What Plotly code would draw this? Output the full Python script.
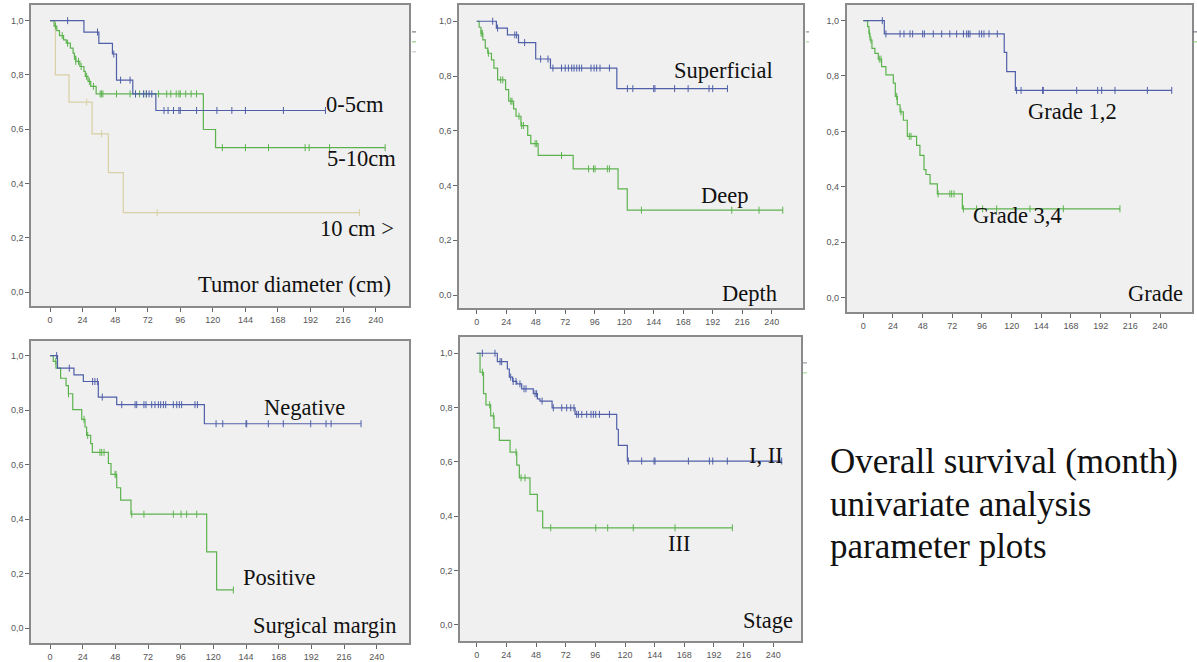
import plotly.graph_objects as go

W, H = 1197, 662

# ---------------- DATA (months, survival) ----------------
XTICKS = [0, 24, 48, 72, 96, 120, 144, 168, 192, 216, 240]
YTICKS = [0.0, 0.2, 0.4, 0.6, 0.8, 1.0]
YTICK_TEXT = ["0,0", "0,2", "0,4", "0,6", "0,8", "1,0"]

# Panel 1: Tumor diameter
td_0_5_t = [25, 36, 46, 49, 61, 78]
td_0_5_s = [0.958, 0.916, 0.877, 0.781, 0.730, 0.669]
td_0_5_c = [13, 35, 47, 52, 59, 63, 69, 71, 73, 75, 84, 87, 91, 95, 96, 108, 123, 134, 144, 172, 203]

td_5_10_t = [3, 5, 7, 10, 12, 15, 17, 18, 19, 22, 25, 26, 28, 30, 34, 113, 122]
td_5_10_s = [0.980, 0.963, 0.945, 0.929, 0.917, 0.899, 0.880, 0.868, 0.850, 0.831, 0.813, 0.795,
             0.776, 0.758, 0.730, 0.599, 0.532]
td_5_10_c = [4, 9, 13, 18, 19, 21, 23, 27, 29, 32, 37, 38, 39, 49, 59, 63, 66, 69, 71, 80, 86, 89,
             93, 95, 96, 100, 104, 108, 127, 144, 161, 188, 191, 206, 247]

td_10_t = [4, 14, 31, 43, 54]
td_10_s = [0.80, 0.70, 0.583, 0.440, 0.293]
td_10_c = [27, 38, 79, 228]

# Panel 2: Depth
sup_t = [16, 25, 34, 48, 60, 114]
sup_s = [0.975, 0.950, 0.922, 0.862, 0.829, 0.754]
sup_c = [13, 17, 31, 32.5, 39, 52, 58, 62, 69, 72, 74.6, 77.3, 79.2, 81.4, 83.5, 85.4, 93, 95.5,
         97.6, 100.3, 108, 122.6, 127, 144, 145, 161, 172, 189, 192, 204]

deep_t = [2, 3.5, 5, 7, 9, 12, 14, 17, 23.5, 26, 30, 32, 36, 41.5, 44, 50, 78.5, 115, 122.5]
deep_s = [0.978, 0.956, 0.932, 0.902, 0.883, 0.859, 0.829, 0.786, 0.750, 0.708, 0.680, 0.653,
          0.619, 0.583, 0.553, 0.510, 0.461, 0.388, 0.310]
deep_c = [3.6, 4.6, 9.5, 19.5, 21.2, 27.7, 28.7, 34.4, 36.6, 38, 47.5, 48.8, 69, 91, 95, 96.3,
          106.3, 108, 134, 207.5, 229.7, 249]

# Panel 3: Grade
g12_t = [17, 114, 116, 123]
g12_s = [0.952, 0.885, 0.816, 0.748]
g12_c = [15.4, 18.3, 29.7, 32.9, 37.8, 39.9, 48, 49.4, 56.6, 63.4, 70, 75.5, 81, 83.6, 85, 86.3,
         93.8, 95.7, 97.6, 101.7, 108.4, 124, 127.6, 145, 145.6, 172.6, 189.6, 192.8, 203.6,
         229.8, 249.5]

g34_t = [3.5, 4.6, 5.4, 7, 9.4, 12.1, 14.8, 18.3, 24.3, 25.9, 27.5, 29.7, 32.4, 35.6, 43.1, 45.8,
         49.1, 50.7, 54, 59.9, 80.1]
g34_s = [0.978, 0.954, 0.930, 0.900, 0.882, 0.861, 0.834, 0.804, 0.774, 0.726, 0.696, 0.670,
         0.640, 0.582, 0.549, 0.513, 0.462, 0.444, 0.410, 0.374, 0.320]
g34_c = [4.9, 6.2, 12.9, 14.3, 27, 30.5, 37.2, 38.6, 60.5, 70, 71.5, 73.4, 81, 91.7, 96.5, 107.9,
         134.8, 161.8, 207.6]

# Panel 4: Surgical margin
neg_t = [5.5, 17.6, 24.5, 35.5, 49, 113.4]
neg_s = [0.954, 0.929, 0.905, 0.848, 0.820, 0.750]
neg_c = [4.9, 14.2, 31.3, 33, 34.8, 38.4, 52.7, 62.5, 63.7, 69, 70.5, 74.7, 77.1, 79.6, 81.3,
         83.3, 85, 90.6, 93.1, 95, 96.7, 106.5, 108.3, 122, 126.9, 144, 144.5, 160.4, 171.4,
         191.5, 202.8, 206.5, 228.5]

pos_t = [2.4, 4.4, 7.8, 11.8, 13.5, 16.7, 23.3, 25.7, 26.9, 29.9, 31.1, 42.9, 44.8, 49, 51.9,
         59.5, 115.1, 122.4]
pos_s = [0.979, 0.954, 0.917, 0.890, 0.860, 0.802, 0.766, 0.738, 0.707, 0.677, 0.645, 0.604,
         0.564, 0.515, 0.470, 0.418, 0.280, 0.140]
pos_c = [4.2, 13.6, 25, 27.7, 36.7, 38, 39.7, 47.8, 48.5, 60, 69, 90.6, 96.3, 100.4, 107.8, 134.7]

# Panel 5: Stage
st12_t = [16.7, 24.8, 26.4, 29.1, 32.4, 36.4, 45.8, 49.1, 51.2, 61, 79.6, 113.3, 114.6, 121.9]
st12_s = [0.969, 0.942, 0.912, 0.896, 0.887, 0.869, 0.851, 0.832, 0.824, 0.799, 0.775, 0.720,
          0.661, 0.603]
st12_c = [4.6, 14.8, 18.9, 20.2, 27.5, 29.5, 31.8, 35, 38.3, 39.9, 47.2, 48.5, 52.9, 62, 68.8,
          72.8, 76.1, 78.7, 80.9, 82.3, 85, 89, 92.5, 94.4, 96.3, 99.3, 107.4, 122.7, 133.5,
          143.5, 144.3, 171.3, 188.3, 191, 202.8, 246.8]

st3_t = [2.7, 5.5, 7.5, 11.3, 14, 18.3, 27, 32.4, 34.5, 43.1, 49.1, 53.4]
st3_s = [0.93, 0.851, 0.81, 0.769, 0.725, 0.679, 0.636, 0.588, 0.541, 0.48, 0.419, 0.357]
st3_c = [4.6, 10.5, 13.5, 31.8, 35.9, 39.1, 59.9, 96.3, 106, 126.7, 160.5, 206.9]

# ---------------- STYLE ----------------
BLUE = "#4f5fa8"
GREEN = "#5cb34e"
TAN = "#d8d0a4"
SERIF = "Liberation Serif, Times New Roman, serif"
SANS = "Liberation Sans, Arial, sans-serif"

fig = go.Figure()


def surv_at(te, se, t):
    s = 1.0
    for a, b in zip(te, se):
        if a <= t:
            s = b
    return s


def add_curve(ax, te, se, ce, color):
    xa, ya = ("x" + ax, "y" + ax)
    end = max(ce + te)
    xs = [0] + te + [end]
    ys = [1.0] + se + [se[-1]]
    fig.add_trace(go.Scatter(x=xs, y=ys, mode="lines", line=dict(color=color, width=1.2, shape="hv"),
                             xaxis=xa, yaxis=ya, showlegend=False, hoverinfo="skip"))
    cy = [surv_at(te, se, t) for t in ce]
    fig.add_trace(go.Scatter(x=ce, y=cy, mode="markers",
                             marker=dict(symbol="line-ns", size=5, color=color,
                                         line=dict(width=1, color=color)),
                             xaxis=xa, yaxis=ya, showlegend=False, hoverinfo="skip"))


# frame (L, T, R, B) and pixel positions of x=0, x=240, y=1, y=0
panels = [
    ("", (31, 5, 409, 307), 50, 375.7, 20.7, 293),
    ("2", (459, 5, 803, 309), 476.7, 771.7, 21.3, 296),
    ("3", (846.7, 5, 1191.7, 313), 863.3, 1160, 20.7, 298.3),
    ("4", (31, 341.7, 409, 645), 50, 376.7, 356.7, 630),
    ("5", (460, 338, 801, 643), 476.7, 773.3, 354.3, 626.7),
]

layout_axes = {}
for key, (L, T, R, B), x0, x240, y1, y0 in panels:
    sx = (x240 - x0) / 240.0
    sy = (y0 - y1)
    xr = [-(x0 - L) / sx, 240 + (R - x240) / sx]
    yr = [-(B - y0) / sy, 1 + (y1 - T) / sy]
    common = dict(showline=True, mirror=True, linecolor="#8a8a8a", linewidth=1.6,
                  ticks="outside", ticklen=4, tickwidth=1, tickcolor="#666",
                  tickfont=dict(family=SANS, size=9, color="#555"),
                  showgrid=False, zeroline=False, fixedrange=True)
    layout_axes["xaxis" + key] = dict(domain=[L / W, R / W], range=xr, tickvals=XTICKS,
                                      anchor="y" + key, **common)
    layout_axes["yaxis" + key] = dict(domain=[1 - B / H, 1 - T / H], range=yr, tickvals=YTICKS,
                                      ticktext=YTICK_TEXT, anchor="x" + key, **common)

add_curve("", td_10_t, td_10_s, td_10_c, TAN)
add_curve("", td_5_10_t, td_5_10_s, td_5_10_c, GREEN)
add_curve("", td_0_5_t, td_0_5_s, td_0_5_c, BLUE)
add_curve("2", deep_t, deep_s, deep_c, GREEN)
add_curve("2", sup_t, sup_s, sup_c, BLUE)
add_curve("3", g34_t, g34_s, g34_c, GREEN)
add_curve("3", g12_t, g12_s, g12_c, BLUE)
add_curve("4", pos_t, pos_s, pos_c, GREEN)
add_curve("4", neg_t, neg_s, neg_c, BLUE)
add_curve("5", st3_t, st3_s, st3_c, GREEN)
add_curve("5", st12_t, st12_s, st12_c, BLUE)

annotations = []


def ann(text, xr_px, yc_px, size=22.5, anchor="right"):
    annotations.append(dict(text=text, x=xr_px / W, y=1 - yc_px / H, xref="paper", yref="paper",
                            xanchor=anchor, yanchor="middle", showarrow=False,
                            font=dict(family=SERIF, size=size, color="#111")))


ann("0-5cm", 386, 105)
ann("5-10cm", 398, 159)
ann("10 cm >", 396, 229)
ann("Tumor diameter (cm)", 393, 285)
ann("Superficial", 775, 71)
ann("Deep", 750, 196)
ann("Depth", 779, 294)
ann("Grade 1,2", 1119, 112)
ann("Grade 3,4", 1064, 216)
ann("Grade", 1185, 294)
ann("Negative", 347, 409)
ann("Positive", 318, 579)
ann("Surgical margin", 399, 627)
ann("I, II", 785, 457)
ann("III", 692, 545)
ann("Stage", 795, 622)
ann("Overall survival (month)", 828, 463, size=35, anchor="left")
ann("univariate analysis", 828, 506, size=35, anchor="left")
ann("parameter plots", 828, 548, size=35, anchor="left")

# cropped legend remnants at the right of some panels
shapes = []
for x0p, x1p, yp, col in [(412, 416, 32, "#666"), (412, 416, 42, "#7cc46c"), (412, 416, 52, "#bbb"),
                          (806, 809, 32, "#778"), (806, 809, 42, "#9ccf90"),
                          (1193, 1197, 32, "#667"), (1193, 1197, 42, "#7cc46c"),
                          (803, 807, 364, "#889"), (803, 807, 374, "#9ccf90")]:
    shapes.append(dict(type="line", xref="paper", yref="paper", x0=x0p / W, x1=x1p / W,
                       y0=1 - yp / H, y1=1 - yp / H, line=dict(color=col, width=1)))

fig.update_layout(width=W, height=H, margin=dict(l=0, r=0, t=0, b=0),
                  paper_bgcolor="white", plot_bgcolor="#f0f0f0",
                  annotations=annotations, shapes=shapes, showlegend=False, **layout_axes)

fig.write_html("out.html", config={"displayModeBar": False},
               post_script="document.body.style.margin='0px';document.body.style.overflow='hidden';")
